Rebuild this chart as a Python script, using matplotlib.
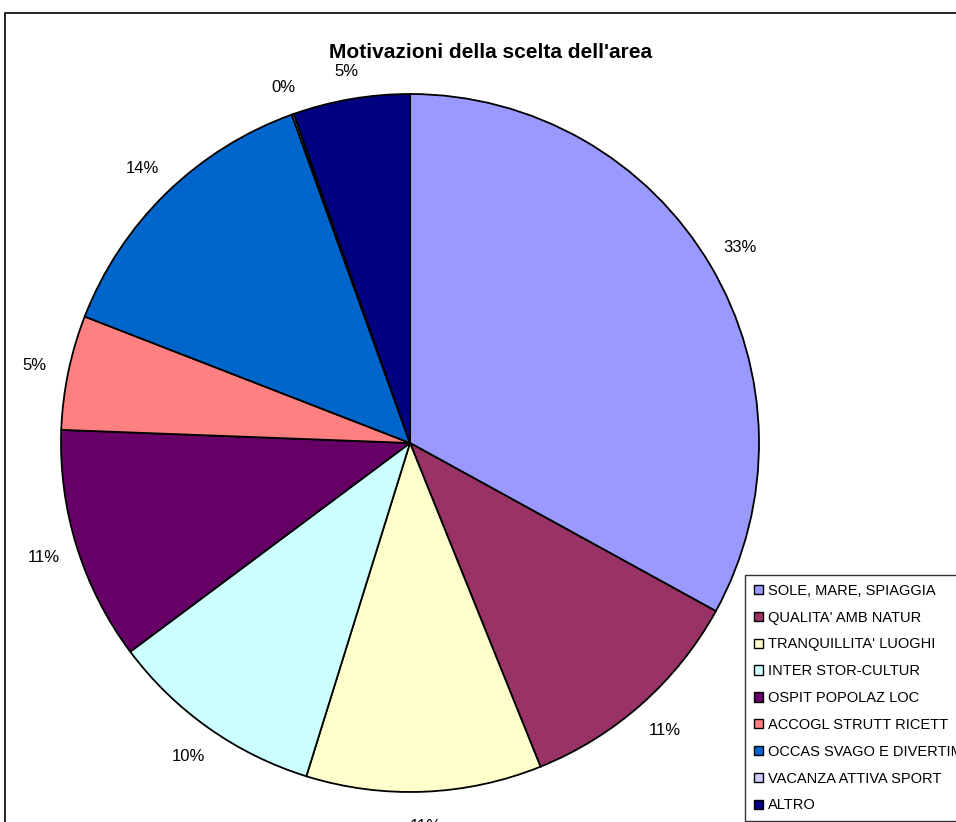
import matplotlib.pyplot as plt
from matplotlib.patches import Patch, Rectangle

# =========================
# DATA
# =========================
categories = [
    "SOLE, MARE, SPIAGGIA",
    "QUALITA' AMB NATUR",
    "TRANQUILLITA' LUOGHI",
    "INTER STOR-CULTUR",
    "OSPIT POPOLAZ LOC",
    "ACCOGL STRUTT RICETT",
    "OCCAS SVAGO E DIVERTIM",
    "VACANZA ATTIVA SPORT",
    "ALTRO",
]
values = [33.0, 10.9, 10.9, 10.0, 10.8, 5.3, 13.6, 0.1, 5.4]
colors = ["#9999FF", "#993366", "#FFFFCC", "#CCFFFF", "#660066",
          "#FF8080", "#0066CC", "#CCCCFF", "#000080"]

plt.rcParams["font.family"] = ["Liberation Sans", "DejaVu Sans"]

W, H = 956, 822
fig = plt.figure(figsize=(W / 100, H / 100), dpi=100)

# chart frame (cropped at right/bottom)
fig.patches.append(Rectangle((5 / W, -0.1), 1.2, 1 - 13 / H + 0.1,
                             transform=fig.transFigure, fill=False,
                             edgecolor="black", linewidth=1.2))

# =========================
# PIE
# =========================
cx, cy, r = 410, 443, 349
ax = fig.add_axes([(cx - r) / W, (H - cy - r) / H, 2 * r / W, 2 * r / H])
wedges, texts = ax.pie(
    values, colors=colors, startangle=90, counterclock=False,
    wedgeprops=dict(edgecolor="black", linewidth=1.3),
    labels=[f"{round(v)}%" for v in values], labeldistance=1.1,
    textprops=dict(fontsize=12),
)
for t in texts:
    t.set_ha("center")
    t.set_va("center")
# the two small labels near the title sit a bit closer to the pie
for t in texts[-2:]:
    x, y = t.get_position()
    t.set_position((x * 1.08 / 1.1, y * 1.08 / 1.1))
ax.set_xlim(-1, 1)
ax.set_ylim(-1, 1)
ax.set_aspect("auto")
ax.axis("off")

fig.text(491 / W, 1 - 52 / H, "Motivazioni della scelta dell'area",
         ha="center", va="center", fontsize=15, fontweight="bold")

# =========================
# LEGEND
# =========================
handles = [Patch(facecolor=c, edgecolor="black", linewidth=1) for c in colors]
leg = fig.legend(handles, categories, loc="upper left",
                 bbox_to_anchor=(745 / W, 1 - 575 / H), borderaxespad=0,
                 fontsize=10.5, frameon=True, fancybox=False, edgecolor="black",
                 handlelength=0.6, handleheight=0.6, handletextpad=0.4,
                 labelspacing=0.88, borderpad=0.6)
leg.get_frame().set_linewidth(1)

fig.savefig("out.png", dpi=100)
